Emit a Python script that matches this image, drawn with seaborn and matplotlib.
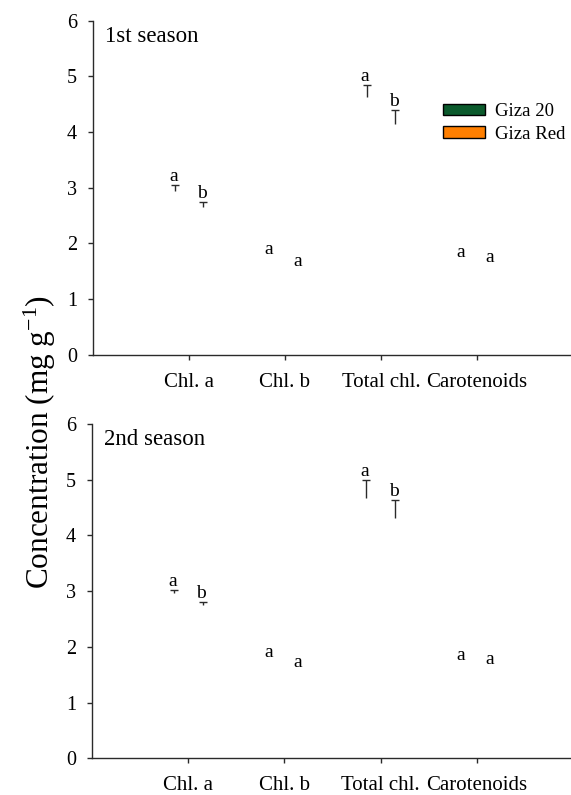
import numpy as np
import pandas as pd
import matplotlib
matplotlib.use("Agg")
import matplotlib.pyplot as plt
import seaborn as sns
from matplotlib.patches import Patch, Rectangle

# ---------------- data ----------------
traits = ["Chl. a", "Chl. b", "Total chl.", "Carotenoids"]
cultivars = ["Giza 20", "Giza Red"]
colors = ["#0b5a2c", "#ff7f00"]
seasons = ["1st season", "2nd season"]
yticks = [0, 1, 2, 3, 4, 5, 6]

s1_giza20 = [2.93, 1.73, 4.62, 1.68]
s1_gizared = [2.65, 1.51, 4.15, 1.59]
s1_err_giza20 = [0.11, 0.0, 0.22, 0.0]
s1_err_gizared = [0.09, 0.0, 0.24, 0.0]
s1_let_giza20 = ["a", "a", "a", "a"]
s1_let_gizared = ["b", "a", "b", "a"]

s2_giza20 = [2.96, 1.74, 4.68, 1.69]
s2_gizared = [2.75, 1.56, 4.32, 1.62]
s2_err_giza20 = [0.06, 0.0, 0.32, 0.0]
s2_err_gizared = [0.06, 0.0, 0.32, 0.0]
s2_let_giza20 = ["a", "a", "a", "a"]
s2_let_gizared = ["b", "a", "b", "a"]

season_data = [
    ([s1_giza20, s1_gizared], [s1_err_giza20, s1_err_gizared], [s1_let_giza20, s1_let_gizared]),
    ([s2_giza20, s2_gizared], [s2_err_giza20, s2_err_gizared], [s2_let_giza20, s2_let_gizared]),
]

# ---------------- style ----------------
sns.set_style("ticks")
plt.rcParams["font.family"] = ["Liberation Serif", "DejaVu Serif"]
plt.rcParams["mathtext.fontset"] = "custom"
plt.rcParams["mathtext.rm"] = "Liberation Serif"
plt.rcParams["mathtext.it"] = "Liberation Serif:italic"
plt.rcParams["text.color"] = "black"
plt.rcParams["xtick.labelcolor"] = "black"
plt.rcParams["ytick.labelcolor"] = "black"

W, H = 571, 795
fig = plt.figure(figsize=(W / 100, H / 100), dpi=100)
ax1 = fig.add_axes([93 / W, 1 - 354.5 / H, (W - 93) / W, 333.8 / H])
ax2 = fig.add_axes([92 / W, 1 - 758.3 / H, (W - 92) / W, 334.3 / H])

line_col = "#2a2a2a"

for ax, season, (vals, errs, lets) in zip([ax1, ax2], seasons, season_data):
    rows = []
    for ci, cv in enumerate(cultivars):
        for ti, tr in enumerate(traits):
            rows.append({"trait": tr, "cultivar": cv, "value": vals[ci][ti]})
    df = pd.DataFrame(rows)
    sns.barplot(data=df, x="trait", y="value", hue="cultivar", order=traits,
                hue_order=cultivars, palette=colors, errorbar=None, width=0.6,
                ax=ax, legend=False, linewidth=0)

    bars = [p for p in ax.patches if isinstance(p, Rectangle) and p.get_width() > 0]
    xs = [[], []]; ys = [[], []]; es = [[], []]
    for bar in bars:
        # bars are not visible in the reference (only error bars and letters)
        bar.set_facecolor("none")
        bar.set_edgecolor("none")
        xc = bar.get_x() + bar.get_width() / 2
        k = int(round(xc))
        ci = 0 if xc < k else 1
        v = bar.get_height()
        e = errs[ci][k]
        if e > 0:
            xs[ci].append(xc); ys[ci].append(v); es[ci].append(e)
        ax.annotate(lets[ci][k], (xc, v + e), xytext=(-1, 3),
                    textcoords="offset points", ha="center", va="baseline",
                    fontsize=14, color="black")
    for ci in range(2):
        if xs[ci]:
            eb = ax.errorbar(xs[ci], ys[ci], yerr=[np.zeros(len(es[ci])), es[ci]],
                             fmt="none", ecolor=line_col, elinewidth=1.0,
                             capsize=3.0, capthick=1.0)
            eb[1][0].set_visible(False)  # hide lower caps -> "T" shape

    ax.set_xlim(-1, 3.98)
    ax.set_ylim(0, 6)
    ax.set_yticks(yticks)
    ax.set_yticklabels([str(t) for t in yticks])
    ax.set_xlabel("")
    ax.set_ylabel("")
    sns.despine(ax=ax)
    for sp in ["left", "bottom"]:
        ax.spines[sp].set_linewidth(1.0)
        ax.spines[sp].set_color(line_col)
    ax.tick_params(axis="both", direction="out", length=3.5, width=1.0,
                   color=line_col)
    ax.tick_params(axis="y", pad=8, labelsize=14.5)
    ax.tick_params(axis="x", pad=9.5, labelsize=15)
    ax.text(0.025, 0.985, season, transform=ax.transAxes, ha="left", va="top",
            fontsize=16.5)

handles = [Patch(facecolor=c, edgecolor="black", linewidth=1.0) for c in colors]
ax1.legend(handles, cultivars, loc="upper left", bbox_to_anchor=(0.732, 0.753),
           frameon=False, fontsize=13.5, handlelength=2.25, handleheight=0.55,
           handletextpad=0.55, labelspacing=0.3, borderpad=0, borderaxespad=0)

fig.text(40 / W, 1 - 442 / H, r"Concentration (mg g$^{-1}$)", rotation=90,
         ha="center", va="center", fontsize=22.5)

fig.savefig("out.png", dpi=100)
